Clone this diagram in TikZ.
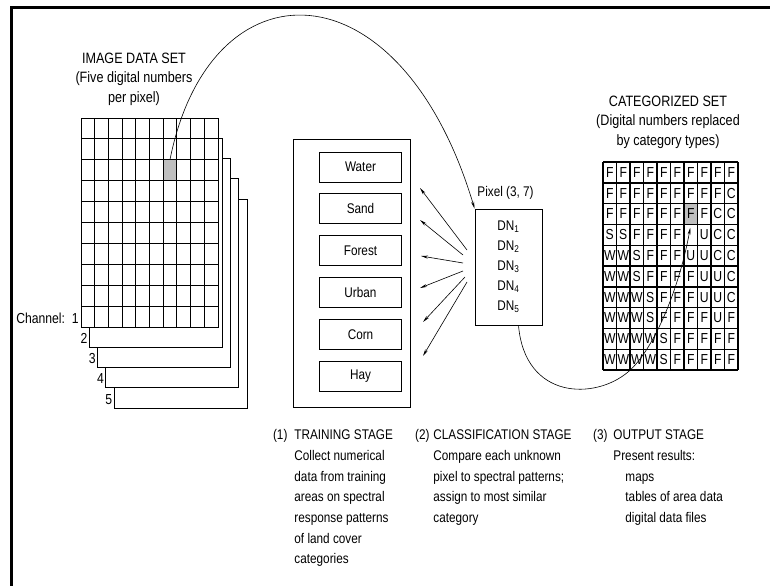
\documentclass[tikz,border=0pt]{standalone}
\usepackage{fontspec}
\setmainfont[FakeStretch=0.84]{Liberation Sans}
\usetikzlibrary{arrows.meta}

\begin{document}
\begin{tikzpicture}[x=1pt, y=-1pt, line width=0.9pt,
  lbl/.style={inner sep=0pt, font=\fontsize{14}{20.7}\selectfont},
  ttl/.style={inner sep=0pt, align=center, font=\fontsize{15}{19.5}\selectfont},
  classbox/.style={draw, minimum width=82pt, minimum height=30pt, inner sep=0pt,
    font=\fontsize{14}{15}\selectfont},
  cell/.style={minimum width=13.5pt, minimum height=20.8pt, inner sep=0pt,
    font=\fontsize{14.5}{16}\selectfont},
  pointer/.style={line width=0.6pt, -{Stealth[length=7pt, width=3pt]}}]
\useasboundingbox (0,0) rectangle (770,586);
% frame
\draw[line width=3pt] (770,8) -- (11,8) -- (11,586);

% image data set
\node[ttl] (imgttl) at (134,79) {IMAGE DATA SET\\(Five digital numbers\\per pixel)};
\foreach \k in {5,4,3,2}
  \filldraw[fill=white] ({81+(\k-1)*8.3},{118+(\k-1)*20.3}) rectangle +(133,209);
\filldraw[fill=white] (81,118) rectangle (218,327);
\node[draw, fill=black!25, minimum width=13.7pt, minimum height=20.9pt, inner sep=0pt]
  (pix37) at (170.05,170.25) {};
\foreach \i in {1,...,9} {
  \draw ({81+\i*13.7},118) -- ({81+\i*13.7},327);
  \draw (81,{118+\i*20.9}) -- (218,{118+\i*20.9});
}
\node[lbl, anchor=east, font=\fontsize{14.5}{16}\selectfont] (ch1) at (79,318) {Channel:\ \ 1};
\foreach \k in {2,...,5}
  \node[lbl, anchor=east, font=\fontsize{14.5}{16}\selectfont]
    (ch\k) at ({81+(\k-1)*8.3-1.5},{327+(\k-1)*20.3-9}) {\k};

% training stage
\node[draw, minimum width=117pt, minimum height=268pt] (train) at (351.5,273) {};
\foreach \nm/\txt [count=\j] in {water/Water, sand/Sand, forest/Forest,
    urban/Urban, corn/Corn, hay/Hay}
  \node[classbox] (\nm) at (360.5,{167+(\j-1)*41.8}) {\txt};

% unknown pixel
\node[draw, minimum width=67pt, minimum height=116pt, align=left, inner sep=0pt,
  font=\fontsize{14}{20}\selectfont] (pixbox) at (508.5,267)
  {DN\textsubscript{1}\\DN\textsubscript{2}\\DN\textsubscript{3}\\DN\textsubscript{4}\\DN\textsubscript{5}};
\node[lbl, anchor=west] (pixlbl) at (477,193) {Pixel (3, 7)};
\draw[pointer] (pix37.north) .. controls (210,-40) and (400,-40) .. (pixbox.north west);
\foreach \i/\sx/\sy/\tx/\ty in {1/467/250/420/188, 2/463/255/420/220, 3/463/263/421/256,
    4/463/271/420/288, 5/465/277/423/322, 6/467/282/423/356} {
  \coordinate (s\i) at (\sx,\sy);
  \coordinate (t\i) at (\tx,\ty);
  \draw[pointer] (s\i) -- (t\i);
}

% categorized set
\node[ttl] (catttl) at (668,122) {CATEGORIZED SET\\(Digital numbers replaced\\by category types)};
\fill[black!25] ({603+6*13.5},{162+2*20.8}) rectangle +(13.5,20.8);
\foreach \row [count=\r] in {{F,F,F,F,F,F,F,F,F,F}, {F,F,F,F,F,F,F,F,F,C},
    {F,F,F,F,F,F,F,F,C,C}, {S,S,F,F,F,F,{},U,C,C}, {W,W,S,F,F,F,U,U,C,C},
    {W,W,S,F,F,F,F,U,U,C}, {W,W,W,S,F,F,F,U,U,C}, {W,W,W,S,F,F,F,F,U,F},
    {W,W,W,W,S,F,F,F,F,F}, {W,W,W,W,S,F,F,F,F,F}}
  \foreach \c [count=\k] in \row
    \node[cell] (c\r-\k) at ({603+(\k-0.5)*13.5},{162+(\r-0.5)*20.8}) {\c};
\foreach \i in {0,...,10} {
  \draw[line width=1.4pt] ({603+\i*13.5},162) -- ({603+\i*13.5},370);
  \draw[line width=1.4pt] (603,{162+\i*20.8}) -- (738,{162+\i*20.8});
}
\draw[pointer, shorten >=3pt] ([xshift=10pt]pixbox.south) .. controls (525,400) and (595,400) .. (628,372)
  .. controls (655,349) and (680,285) .. (c3-7.south);

% stages
\node[lbl, anchor=north west, align=left] (stage1) at (294,429)
  {\llap{(1)\hspace{7pt}}TRAINING STAGE\\Collect numerical\\data from training\\areas on spectral\\response patterns\\of land cover\\categories};
\node[lbl, anchor=north west, align=left] (stage2) at (433,429)
  {\llap{(2)\hspace{4pt}}CLASSIFICATION STAGE\\Compare each unknown\\pixel to spectral patterns;\\assign to most similar\\category};
\node[lbl, anchor=north west, align=left] (stage3) at (613,429)
  {\llap{(3)\hspace{6pt}}OUTPUT STAGE\\Present results:\\\hspace*{12pt}maps\\\hspace*{12pt}tables of area data\\\hspace*{12pt}digital data files};
\end{tikzpicture}
\end{document}
